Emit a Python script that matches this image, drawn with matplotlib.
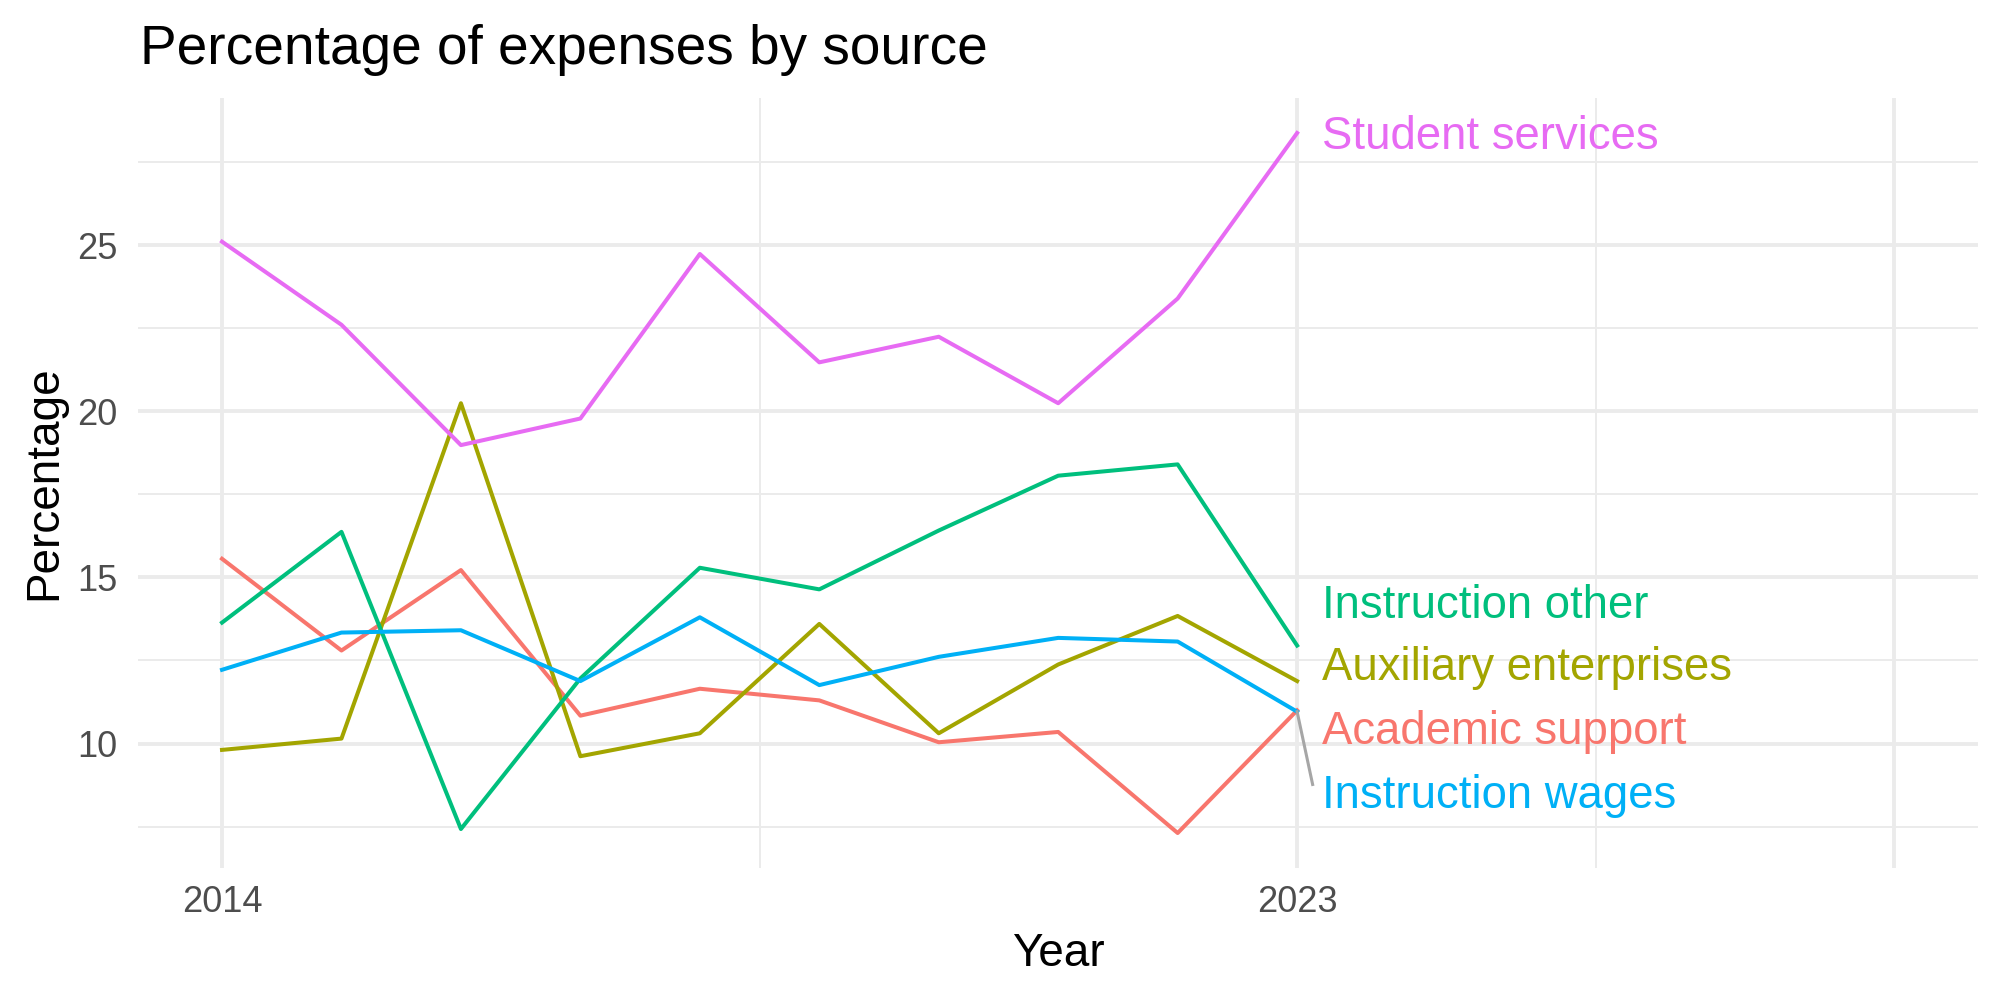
import numpy as np
import matplotlib
matplotlib.use("Agg")
import matplotlib.pyplot as plt

plt.rcParams['font.family'] = ['Liberation Sans', 'DejaVu Sans']

years = list(range(2014, 2024))

academic_support = [15.56, 12.80, 15.22, 10.84, 11.65, 11.30, 10.04, 10.35, 7.31, 11.00]
auxiliary_enterprises = [9.81, 10.15, 20.24, 9.62, 10.31, 13.60, 10.31, 12.38, 13.84, 11.88]
instruction_other = [13.64, 16.37, 7.43, 11.96, 15.29, 14.64, 16.41, 18.06, 18.40, 12.95]
instruction_wages = [12.22, 13.34, 13.41, 11.88, 13.80, 11.76, 12.61, 13.18, 13.07, 10.96]
student_services = [25.10, 22.60, 18.98, 19.78, 24.73, 21.47, 22.24, 20.24, 23.39, 28.37]

series_names = ["Academic support", "Auxiliary enterprises", "Instruction other",
                "Instruction wages", "Student services"]
series_values = [academic_support, auxiliary_enterprises, instruction_other,
                 instruction_wages, student_services]
colors = ["#F8766D", "#A3A500", "#00BF7D", "#00B0F6", "#E76BF3"]

# where the repelled labels ended up (years / percent)
label_x = 2023.21
label_y = [10.34, 12.26, 14.14, 8.42, 28.25]

fig = plt.figure(figsize=(20, 10), dpi=100)
ax = fig.add_axes([0.0692, 0.132, 0.9198, 0.770])

for name, vals, col in zip(series_names, series_values, colors):
    ax.plot(years, vals, color=col, linewidth=2.9, zorder=3)

# connector for the moved label
ax.plot([2023, 2023.13], [instruction_wages[-1], 8.77], color="#A6A6A6",
        linewidth=2.2, zorder=3)

for name, ly, col in zip(series_names, label_y, colors):
    ax.text(label_x, ly, name, color=col, fontsize=32.8, ha='left', va='center', zorder=4)

all_vals = np.concatenate(series_values)
ymin, ymax = all_vals.min(), all_vals.max()
yr = ymax - ymin
ax.set_ylim(ymin - 0.05 * yr, ymax + 0.05 * yr)
ax.set_xlim(2014 - 0.7, 2028 + 0.7)

ax.set_xticks([2014, 2023, 2028])
ax.set_xticklabels(["2014", "2023", ""])
ax.set_xticks([2018.5, 2025.5], minor=True)
ax.set_yticks([10, 15, 20, 25])
ax.set_yticks([7.5, 12.5, 17.5, 22.5, 27.5], minor=True)

ax.grid(which='major', color='#EBEBEB', linewidth=2.8, zorder=0)
ax.grid(which='minor', color='#EBEBEB', linewidth=1.4, zorder=0)
ax.set_axisbelow(True)
for s in ax.spines.values():
    s.set_visible(False)

ax.tick_params(which='both', length=0)
ax.tick_params(axis='y', labelsize=26, labelcolor='#4D4D4D', pad=15.2)
ax.tick_params(axis='x', labelsize=26, labelcolor='#4D4D4D', pad=12)

ax.set_xlabel("Year", fontsize=33, labelpad=9)
ax.set_ylabel("Percentage", fontsize=33, labelpad=8)

fig.text(0.0700, 0.936, "Percentage of expenses by source", fontsize=39.6,
         ha='left', va='baseline')

fig.savefig("out.png", dpi=100, facecolor='white')
